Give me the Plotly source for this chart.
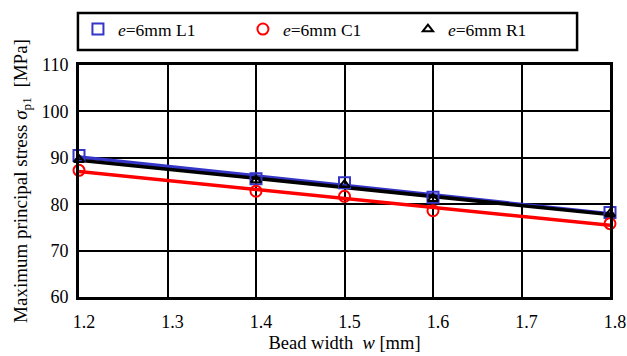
import numpy as np
import plotly.graph_objects as go

bead_width = [1.2, 1.4, 1.5, 1.6, 1.8]
series_names = ["<i>e</i>=6mm L1", "<i>e</i>=6mm C1", "<i>e</i>=6mm R1"]
L1 = [90.5, 85.5, 84.6, 81.5, 78.2]
C1 = [87.3, 82.8, 81.7, 78.6, 75.8]
R1 = [89.6, 85.2, 84.2, 81.2, 77.9]
x_ticks = [1.2, 1.3, 1.4, 1.5, 1.6, 1.7, 1.8]
y_ticks = [60, 70, 80, 90, 100, 110]

FONT = "Liberation Serif, Times New Roman, serif"
styles = [
    dict(data=L1, color="#3535c8", symbol="square-open", size=11),
    dict(data=C1, color="#ff0000", symbol="circle-open", size=11),
    dict(data=R1, color="#000000", symbol="triangle-up-open", size=9),
]

fig = go.Figure()
xs = np.array(bead_width)
xl = np.array([bead_width[0], bead_width[-1]])
# trend lines (red first, then blue, then black on top)
for i in [1, 0, 2]:
    s = styles[i]
    k, b = np.polyfit(xs, np.array(s["data"]), 1)
    fig.add_trace(go.Scatter(x=xl, y=k * xl + b, mode="lines",
                             line=dict(color=s["color"], width=3.5),
                             showlegend=False, hoverinfo="skip", cliponaxis=False))
for i, s in enumerate(styles):
    fig.add_trace(go.Scatter(x=bead_width, y=s["data"], mode="markers",
                             name=series_names[i], cliponaxis=False,
                             marker=dict(symbol=s["symbol"], size=s["size"],
                                         color=s["color"],
                                         line=dict(color=s["color"], width=2))))

# legend frame (plot area: x 79..610, y 65..297 px)
fig.add_shape(type="rect", xref="paper", yref="paper",
              x0=-0.002, x1=0.938, y0=1.065, y1=1.224,
              line=dict(color="black", width=2.5), fillcolor="rgba(0,0,0,0)")

fig.update_layout(
    width=627, height=356,
    margin=dict(l=79, r=17, t=65, b=59, autoexpand=False),
    paper_bgcolor="white", plot_bgcolor="white",
    font=dict(family=FONT, size=18, color="black"),
    showlegend=True,
    legend=dict(orientation="h", x=-0.002, xanchor="left", y=1.232, yanchor="top",
                borderwidth=0, bgcolor="rgba(0,0,0,0)",
                font=dict(family=FONT, size=17.5, color="black"),
                entrywidth=120, entrywidthmode="pixels", itemwidth=30,
                tracegroupgap=0),
    xaxis=dict(range=[1.2, 1.8], tickvals=x_ticks, ticktext=[f"{v:.1f}" for v in x_ticks],
               showgrid=True, gridcolor="black", gridwidth=2,
               showline=True, linecolor="black", linewidth=3, mirror=True,
               ticks="", zeroline=False, automargin=False,
               tickfont=dict(size=18), ticklabelstandoff=6, ticklabelshift=5,
               title=dict(text="Bead width  <i>w</i> [mm]", font=dict(size=18.5), standoff=6)),
    yaxis=dict(range=[60, 110], tickvals=y_ticks,
               showgrid=True, gridcolor="black", gridwidth=2,
               showline=True, linecolor="black", linewidth=3, mirror=True,
               ticks="", zeroline=False, automargin=False,
               tickfont=dict(size=18), ticklabelstandoff=4,
               title=dict(text="Maximum principal stress <i>σ</i><sub>p1</sub>  [MPa]",
                          font=dict(size=19), standoff=9)),
)
fig.write_html("out.html", config={"displayModeBar": False},
               post_script="document.body.style.margin='0';")
